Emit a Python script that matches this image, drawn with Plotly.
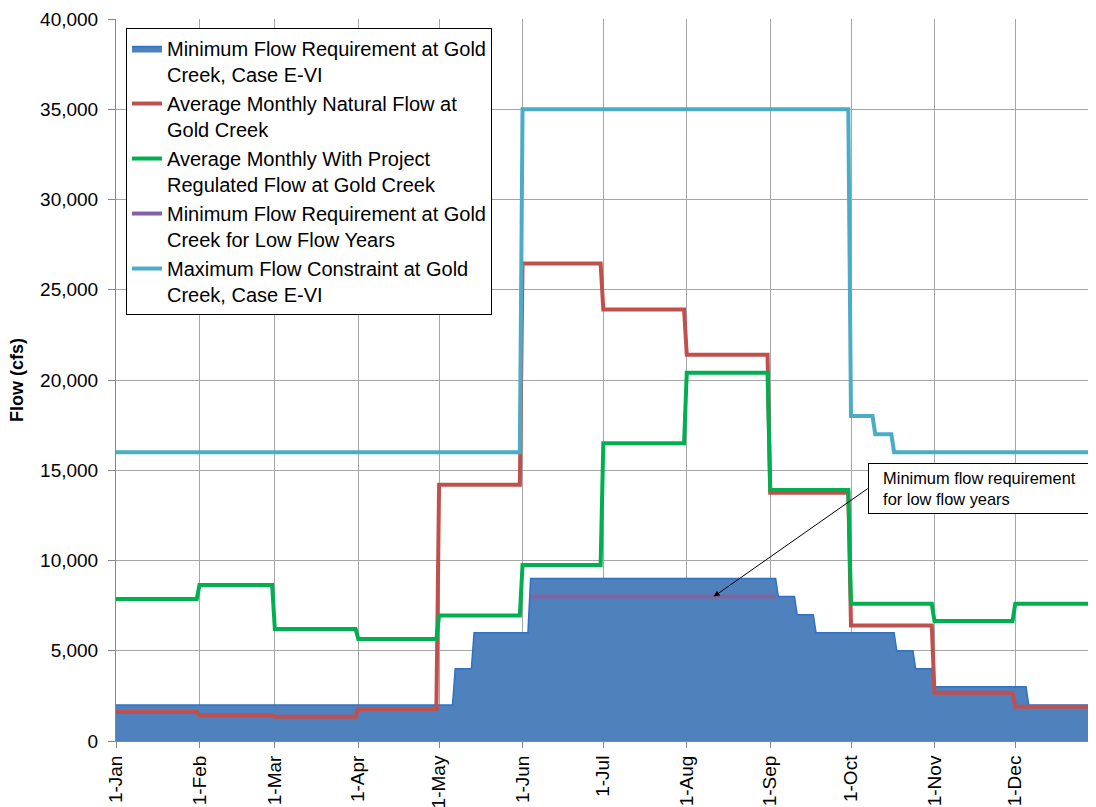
import pandas as pd
import plotly.graph_objects as go

YEAR = 2021

# ---- data ----
month_labels = ["1-Jan", "1-Feb", "1-Mar", "1-Apr", "1-May", "1-Jun",
                "1-Jul", "1-Aug", "1-Sep", "1-Oct", "1-Nov", "1-Dec"]
month_starts = ["01-01", "02-01", "03-01", "04-01", "05-01", "06-01",
                "07-01", "08-01", "09-01", "10-01", "11-01", "12-01"]

natural_flow = [1610, 1420, 1350, 1770, 14200, 26450, 23900, 21400, 13750, 6400, 2680, 1900]
regulated_flow = [7870, 8640, 6200, 5650, 6950, 9750, 16500, 20400, 13900, 7600, 6650, 7600]

min_flow_starts = ["01-01", "05-07", "05-14", "06-04", "09-04", "09-11",
                   "09-18", "10-18", "10-25", "11-01", "12-06"]
min_flow_values = [2000, 4000, 6000, 9000, 8000, 7000, 6000, 5000, 4000, 3000, 2000]

low_flow_starts = ["06-04"]
low_flow_ends = ["09-03"]
low_flow_values = [8000]

max_flow_starts = ["01-01", "06-01", "10-01", "10-10", "10-17"]
max_flow_values = [16000, 35000, 18000, 17000, 16000]

y_ticks = [0, 5000, 10000, 15000, 20000, 25000, 30000, 35000, 40000]

annotation_text = "Minimum flow requirement<br>for low flow years"
annotation_date = "08-11"
annotation_value = 8000


def d(md):
    return pd.Timestamp(f"{YEAR}-{md}")


def step_series(starts, values, last="12-31"):
    xs, ys = [], []
    for i, (s, v) in enumerate(zip(starts, values)):
        start = d(s)
        end = d(starts[i + 1]) - pd.Timedelta(days=1) if i + 1 < len(starts) else d(last)
        xs += [start, end]
        ys += [v, v]
    return xs, ys


font_family = "Arial, Liberation Sans, sans-serif"

fig = go.Figure()

x, y = step_series(min_flow_starts, min_flow_values)
fig.add_trace(go.Scatter(
    x=x, y=y, mode="lines", fill="tozeroy",
    fillcolor="#4F81BD", line=dict(color="#2F72C4", width=1.5),
    name="Minimum Flow Requirement at Gold<br>Creek, Case E-VI"))

x, y = step_series(month_starts, natural_flow)
fig.add_trace(go.Scatter(
    x=x, y=y, mode="lines", line=dict(color="#C0504D", width=4),
    name="Average Monthly Natural Flow at<br>Gold Creek"))

x, y = step_series(month_starts, regulated_flow)
fig.add_trace(go.Scatter(
    x=x, y=y, mode="lines", line=dict(color="#00B050", width=4),
    name="Average Monthly With Project<br>Regulated Flow at Gold Creek"))

lx, ly = [], []
for s, e, v in zip(low_flow_starts, low_flow_ends, low_flow_values):
    lx += [d(s), d(e)]
    ly += [v, v]
fig.add_trace(go.Scatter(
    x=lx, y=ly, mode="lines", line=dict(color="#8064A2", width=4),
    name="Minimum Flow Requirement at Gold<br>Creek for Low Flow Years"))

x, y = step_series(max_flow_starts, max_flow_values)
fig.add_trace(go.Scatter(
    x=x, y=y, mode="lines", line=dict(color="#4BACC6", width=4),
    name="Maximum Flow Constraint at Gold<br>Creek, Case E-VI"))

grid = "#A6A6A6"
axis = "#868686"

# page body has an 8px margin; margins compensate so the plot area sits at
# x 116..1096, y 19..741 of the window
fig.update_layout(
    width=1096, height=807,
    margin=dict(l=108, r=8, t=11, b=74, autoexpand=False),
    paper_bgcolor="white", plot_bgcolor="white",
    font=dict(family=font_family, size=19, color="#000000"),
    showlegend=True,
    legend=dict(
        x=0.0102, y=0.9875, xanchor="left", yanchor="top",
        bgcolor="white", bordercolor="#000000", borderwidth=1,
        font=dict(family=font_family, size=20, color="#000000"),
        valign="top", traceorder="normal", tracegroupgap=0,
    ),
    xaxis=dict(
        type="date",
        range=[d("01-01"), d("12-31")],
        tickmode="array",
        tickvals=[d(m) for m in month_starts],
        ticktext=month_labels,
        tickangle=-90,
        automargin=False,
        showgrid=True, gridcolor=grid, gridwidth=1,
        showline=True, linecolor=axis, linewidth=1,
        ticks="outside", ticklen=6, tickcolor=axis,
        zeroline=False,
        tickfont=dict(family=font_family, size=19, color="#000000"),
    ),
    yaxis=dict(
        range=[0, 40000],
        tickmode="array", tickvals=y_ticks,
        ticktext=[f"{v:,}" for v in y_ticks],
        automargin=False,
        showgrid=True, gridcolor=grid, gridwidth=1,
        showline=True, linecolor=axis, linewidth=1,
        ticks="outside", ticklen=7, tickcolor=axis,
        zeroline=False,
        ticklabelstandoff=6,
        tickfont=dict(family=font_family, size=19, color="#000000"),
    ),
    annotations=[
        dict(
            text="<b>Flow (cfs)</b>", textangle=-90,
            xref="paper", yref="paper",
            x=(17 - 116) / 980, y=0.5, xanchor="center", yanchor="middle",
            showarrow=False,
            font=dict(family=font_family, size=18, color="#000000"),
        ),
        dict(
            text="&nbsp;&nbsp;" + annotation_text.replace("<br>", "<br>&nbsp;&nbsp;"),
            x=d(annotation_date), y=annotation_value,
            xref="x", yref="y",
            showarrow=True, arrowhead=2, arrowsize=1.2, arrowwidth=1,
            arrowcolor="#000000",
            ax=154, ay=-108,
            xanchor="left", yanchor="middle",
            align="left", width=250,
            bgcolor="white", bordercolor="#000000", borderwidth=1, borderpad=5,
            font=dict(family=font_family, size=16.4, color="#000000"),
        ),
    ],
)

fig.write_html("out.html", config={"displayModeBar": False})
